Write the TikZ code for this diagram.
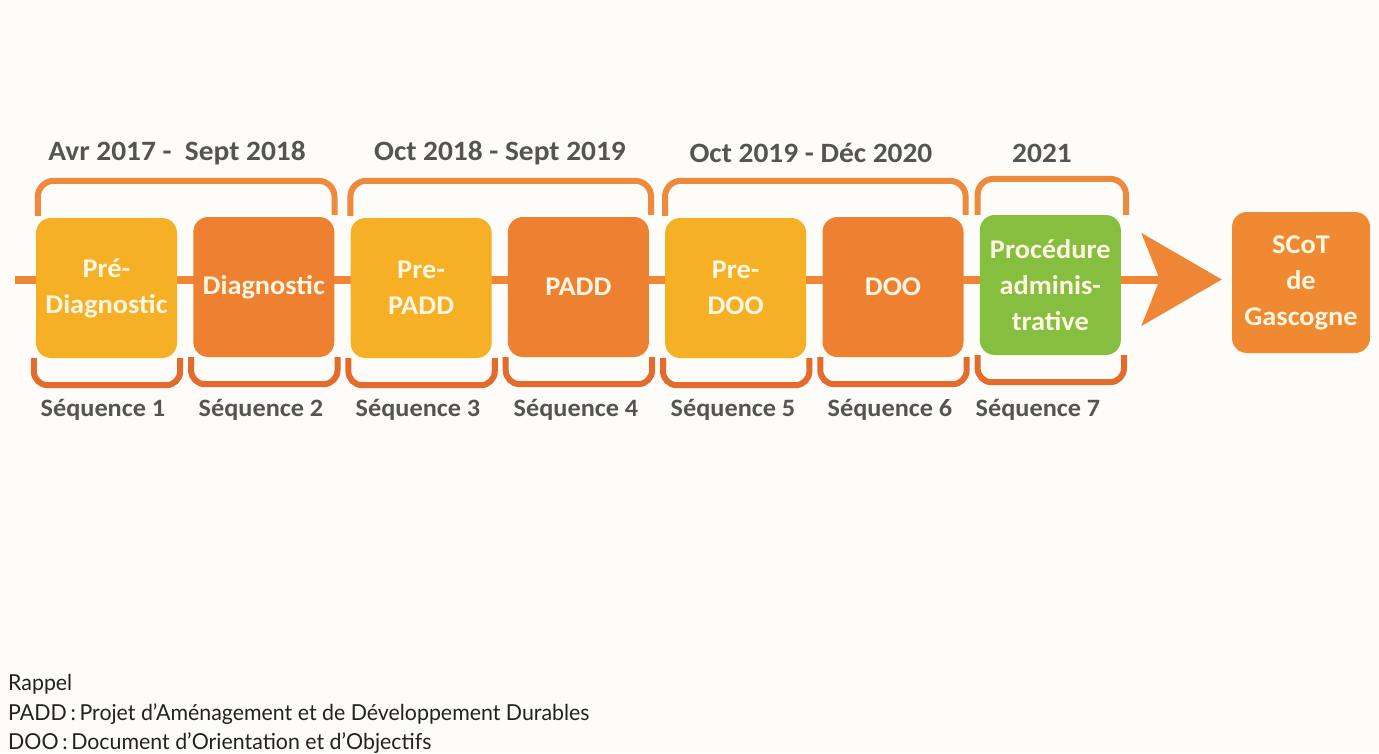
\documentclass[tikz,border=0pt]{standalone}
\usepackage{fontspec}
\newfontfamily\carl[FakeStretch=1.05]{Carlito}
\newfontfamily\lato[FakeStretch=0.97]{Lato}
\usetikzlibrary{arrows.meta,backgrounds}
\definecolor{bgc}{HTML}{FDFCF9}
\definecolor{ylw}{HTML}{F6B026}
\definecolor{org}{HTML}{EE8131}
\definecolor{scotc}{HTML}{F08A32}
\definecolor{grn}{HTML}{86BF40}
\definecolor{tbr}{HTML}{EE8A3C}
\definecolor{bbr}{HTML}{E36B2C}
\definecolor{lbl}{HTML}{545454}
\definecolor{btxt}{HTML}{FFF6E2}
\definecolor{axisc}{HTML}{EE8635}
\definecolor{notec}{HTML}{222222}
\begin{document}
\begin{tikzpicture}[x=1pt,y=-1pt,
  stepbox/.style={rounded corners=15pt, minimum width=141pt, minimum height=140pt,
    inner sep=0pt, align=center, text=btxt,
    font=\carl\bfseries\fontsize{27}{36}\selectfont},
  yel/.style={stepbox, fill=ylw},
  ora/.style={stepbox, fill=org},
  gre/.style={stepbox, fill=grn},
  toplbl/.style={text=lbl, inner sep=0pt, font=\carl\bfseries\fontsize{28}{34}\selectfont},
  seqlbl/.style={text=lbl, inner sep=0pt, font=\carl\bfseries\fontsize{25}{30}\selectfont},
  topbrace/.style={draw=tbr, line width=6pt, rounded corners=16pt},
  botbrace/.style={draw=bbr, line width=6pt, rounded corners=14pt},
  axisline/.style={draw=axisc, line width=8pt, -{Stealth[length=80pt,width=92pt,inset=18pt]}},
  note/.style={text=notec, inner sep=0pt, anchor=base west, font=\lato\fontsize{22}{28}\selectfont}
]
\path[use as bounding box] (0,0) rectangle (1379,753);

% step boxes
\node[yel] (b1) at (106.5,288) {Pré-\\Diagnostic};
\node[ora] (b2) at (263.8,287) {Diagnostic};
\node[yel] (b3) at (421.1,288) {Pre-\\PADD};
\node[ora] (b4) at (578.4,287) {PADD};
\node[yel] (b5) at (735.7,288) {Pre-\\DOO};
\node[ora] (b6) at (893.0,287) {DOO};
\node[gre] (b7) at (1050.3,285) {Procédure\\adminis-\\trative};
\node[stepbox, fill=scotc, minimum width=138pt, minimum height=141pt] (scot) at (1301,282.5) {SCoT\\de\\Gascogne};

% axis with arrow
\coordinate (start) at (15,279.5);
\begin{scope}[on background layer]
\fill[bgc] (0,0) rectangle (1379,753);
\draw[axisline, shorten >=10pt] (start) -- (start -| scot.west);
\end{scope}

% top braces
\draw[topbrace] ([shift={(2,-2)}]b1.north west) |- ([shift={(0,-36)}]b2.north east) -- ([shift={(0,-2)}]b2.north east);
\draw[topbrace] ([shift={(0,-2)}]b3.north west) |- ([shift={(2,-36)}]b4.north east) -- ([shift={(2,-2)}]b4.north east);
\draw[topbrace] ([shift={(0,-2)}]b5.north west) |- ([shift={(2,-36)}]b6.north east) -- ([shift={(2,-2)}]b6.north east);
\draw[topbrace] ([shift={(-2,0)}]b7.north west) |- ([shift={(5,-36)}]b7.north east) -- ([shift={(5,0)}]b7.north east);

% bottom braces
\foreach \b in {b1,b2,b3,b4,b5,b6,b7}{
  \draw[botbrace] ([shift={(-2,0)}]\b.south west) |- ([shift={(3,27)}]\b.south east) -- ([shift={(3,0)}]\b.south east);
}

% period labels
\node[toplbl] (t1) at (177,153) {Avr 2017 -\ \ Sept 2018};
\node[toplbl] (t2) at (500,153) {Oct 2018 - Sept 2019};
\node[toplbl] (t3) at (811,153) {Oct 2019 - Déc 2020};
\node[toplbl] (t4) at (1042,153) {2021};

% sequence labels
\node[seqlbl] (s1) at (103,410) {Séquence 1};
\node[seqlbl] (s2) at (261,410) {Séquence 2};
\node[seqlbl] (s3) at (418,410) {Séquence 3};
\node[seqlbl] (s4) at (576,410) {Séquence 4};
\node[seqlbl] (s5) at (733,410) {Séquence 5};
\node[seqlbl] (s6) at (890,410) {Séquence 6};
\node[seqlbl] (s7) at (1038,410) {Séquence 7};

% notes
\node[note] (n1) at (8,690) {Rappel};
\node[note] (n2) at (8,720) {PADD\,:\,Projet d’Aménagement et de Développement Durables};
\node[note] (n3) at (8,749) {DOO\,:\,Document d’Orientation et d’Objectifs};
\end{tikzpicture}
\end{document}
